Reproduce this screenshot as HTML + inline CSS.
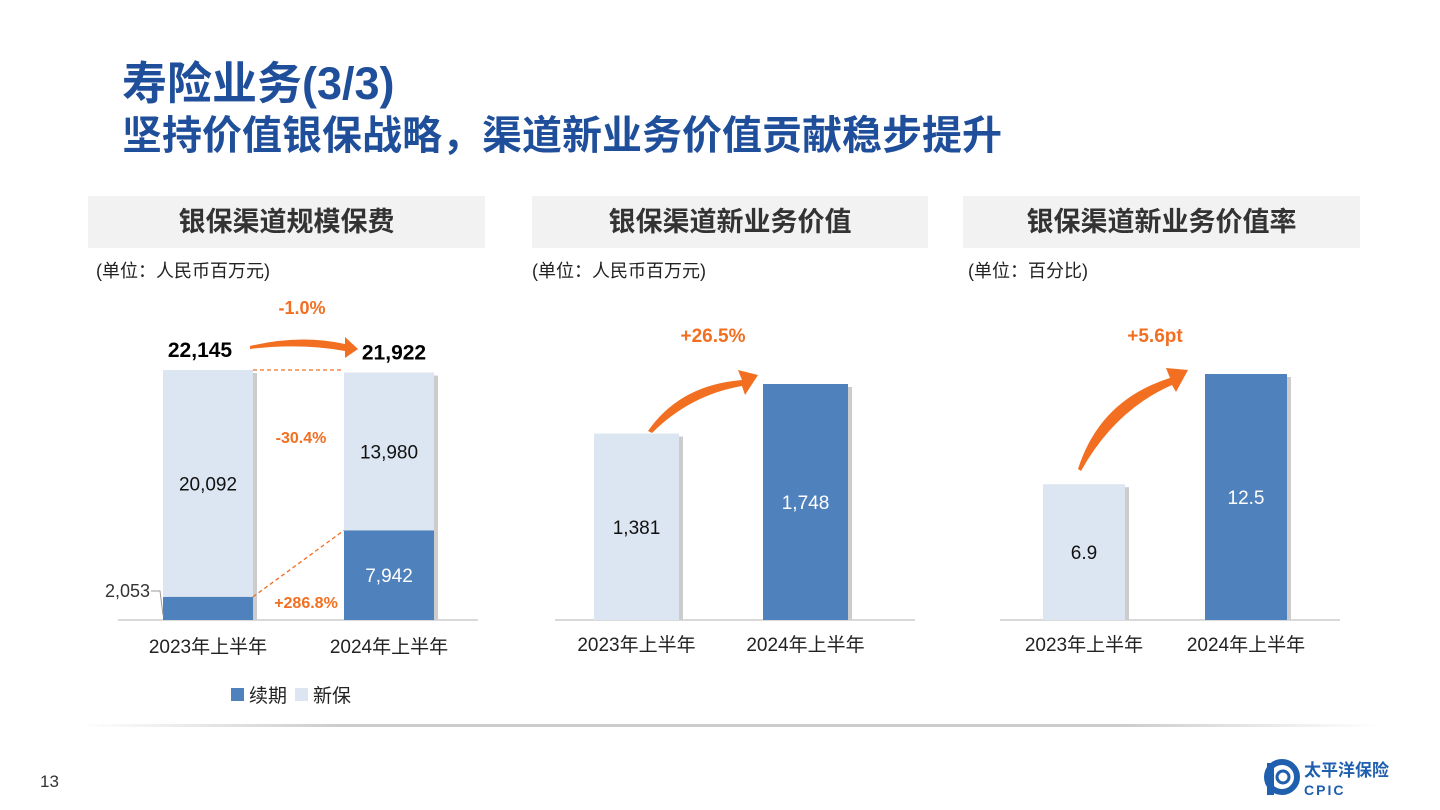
<!DOCTYPE html>
<html><head><meta charset="utf-8">
<style>
body{margin:0;width:1440px;height:810px;background:#fff;position:relative;overflow:hidden;font-family:"Liberation Sans","Noto Sans CJK SC",sans-serif}
.t{position:absolute;white-space:nowrap}
.hdr{position:absolute;top:196px;height:52px;background:#f2f2f2;font-size:27px;font-weight:bold;color:#333;text-align:center;line-height:52px}
.unit{position:absolute;top:257px;font-size:18px;color:#222}
</style></head><body>
<div class="t" style="left:122px;top:56px;font-size:45px;line-height:56px;font-weight:bold;color:#1f4e9a">寿险业务(3/3)</div>
<div class="t" style="left:122px;top:112px;font-size:40px;line-height:48px;font-weight:bold;color:#1f4e9a">坚持价值银保战略，渠道新业务价值贡献稳步提升</div>
<div class="hdr" style="left:88px;width:397px">银保渠道规模保费</div>
<div class="hdr" style="left:532px;width:396px">银保渠道新业务价值</div>
<div class="hdr" style="left:963px;width:397px">银保渠道新业务价值率</div>
<div class="unit" style="left:96px">(单位：人民币百万元)</div>
<div class="unit" style="left:532px">(单位：人民币百万元)</div>
<div class="unit" style="left:968px">(单位：百分比)</div>
<div style="position:absolute;left:80px;top:724px;width:1300px;height:3px;background:linear-gradient(90deg,rgba(200,200,200,0),#ccc 20%,#ccc 80%,rgba(200,200,200,0))"></div>
<div class="t" style="left:40px;top:772px;font-size:17px;color:#333">13</div>
<svg style="position:absolute;left:1262px;top:757px" width="150" height="44">
<circle cx="20" cy="20" r="15" fill="none" stroke="#1f5fae" stroke-width="6"/><rect x="5" y="6" width="7" height="32" fill="#1f5fae"/><circle cx="21" cy="20" r="6" fill="none" stroke="#1f5fae" stroke-width="3"/>
<text x="42" y="19" font-size="17" font-weight="bold" fill="#1f5fae" font-family="Noto Sans CJK SC,sans-serif">太平洋保险</text>
<text x="42" y="38" font-size="14" font-weight="bold" fill="#1f5fae" letter-spacing="2">CPIC</text>
</svg>
<svg id="chart" style="position:absolute;left:0;top:0" width="1440" height="810">
</svg>
<script>
const c1Cats=["2023年上半年","2024年上半年"];
const c1Renew=[2053,7942];
const c1New=[20092,13980];
const c1Total=[22145,21922];
const c2Cats=["2023年上半年","2024年上半年"];
const c2Vals=[1381,1748];
const c3Cats=["2023年上半年","2024年上半年"];
const c3Vals=[6.9,12.5];
const svg=document.getElementById('chart');const NS='http://www.w3.org/2000/svg';
function mk(t,a,txt){const e=document.createElementNS(NS,t);for(const k in a)e.setAttribute(k,a[k]);if(txt!==undefined)e.textContent=txt;svg.appendChild(e);return e;}
const LIGHT='#dce6f2',DARK='#4f81bd',OR='#f26f21';
const base=620;
const y1=v=>base-v*250/22145;const x1=[163,344],w1=90;
let e;
e=mk('line',{x1:118,x2:478,y1:base,y2:base,stroke:'#d9d9d9','stroke-width':2});

for(let i=0;i<2;i++){
 e=mk('rect',{x:x1[i]+4,y:y1(c1Total[i])+3,width:w1,height:base-y1(c1Total[i])-3,fill:'#ccc'});
 
 e=mk('rect',{x:x1[i],y:y1(c1Renew[i]),width:w1,height:base-y1(c1Renew[i]),fill:DARK});
 
 e=mk('rect',{x:x1[i],y:y1(c1Total[i]),width:w1,height:y1(c1Renew[i])-y1(c1Total[i]),fill:LIGHT});
 
 e=mk('text',{x:x1[i]+w1/2,y:base+33,'text-anchor':'middle','font-size':19,fill:'#222'},c1Cats[i]);
 
 e=mk('text',{x:x1[i]+w1/2+(i?5:-8),y:y1(c1Total[i])-13,'text-anchor':'middle','font-size':21,'font-weight':'bold',fill:'#000'},c1Total[i].toLocaleString('en-US'));
 
 e=mk('text',{x:x1[i]+w1/2,y:(y1(c1Total[i])+y1(c1Renew[i]))/2+7,'text-anchor':'middle','font-size':19,fill:'#111'},c1New[i].toLocaleString('en-US'));
 
}
e=mk('text',{x:x1[1]+w1/2,y:(y1(c1Renew[1])+base)/2+7,'text-anchor':'middle','font-size':19,fill:'#fff'},c1Renew[1].toLocaleString('en-US'));

e=mk('text',{x:150,y:597,'text-anchor':'end','font-size':18,fill:'#333'},c1Renew[0].toLocaleString('en-US'));

mk('path',{d:'M151,591 L160,591 L163,615',fill:'none',stroke:'#999'});
e=mk('line',{x1:x1[0]+w1,x2:x1[1],y1:y1(c1Total[0]),y2:y1(c1Total[0]),stroke:OR,'stroke-dasharray':'4,3','stroke-width':1.3});

e=mk('line',{x1:x1[0]+w1,x2:x1[1],y1:y1(c1Renew[0]),y2:y1(c1Renew[1]),stroke:OR,'stroke-dasharray':'4,3','stroke-width':1.3});

e=mk('path',{d:'M250,346 Q300,334 345,344 L345,337 L358,349 L345,358 L345,351 Q300,343 250,349 Z',fill:OR});

[['-1.0%',302,314,18],['-30.4%',301,443,16],['+286.8%',306,608,16]].forEach(a=>{e=mk('text',{x:a[1],y:a[2],'text-anchor':'middle','font-size':a[3],'font-weight':'bold',fill:OR},a[0]);
});
[[240,702,'续期',DARK],[304,702,'新保',LIGHT]].forEach(a=>{e=mk('rect',{x:a[0]-9,y:a[1]-14,width:13,height:13,fill:a[3]});

e=mk('text',{x:a[0]+9,y:a[1],'font-size':19,fill:'#222'},a[2]);
});
function single(pref,cats,vals,xs,w,scale,axis,fmt,lbl,arrow,lblPos){
 e=mk('line',{x1:axis[0],x2:axis[1],y1:base,y2:base,stroke:'#d9d9d9','stroke-width':2});
 
 for(let i=0;i<2;i++){const y=base-vals[i]*scale;
  e=mk('rect',{x:xs[i]+4,y:y+3,width:w,height:base-y-3,fill:'#ccc'});
  
  e=mk('rect',{x:xs[i],y:y,width:w,height:base-y,fill:i?DARK:LIGHT});
  
  e=mk('text',{x:xs[i]+w/2,y:(y+base)/2+7,'text-anchor':'middle','font-size':19,fill:i?'#fff':'#111'},fmt(vals[i]));
  
  e=mk('text',{x:xs[i]+w/2,y:base+31,'text-anchor':'middle','font-size':19,fill:'#222'},cats[i]);
  
 }
 e=mk('path',{d:arrow,fill:OR});
 
 e=mk('text',{x:lblPos[0],y:lblPos[1],'text-anchor':'middle','font-size':19,'font-weight':'bold',fill:OR},lbl);
 
}
single('c2',c2Cats,c2Vals,[594,763],85,236/1748,[555,915],v=>v.toLocaleString('en-US'),'+26.5%','M648,431 Q680,385 742,380 L738,370 L758,375 L745,395 L742,386 Q690,395 652,433 Z',[713,342]);
single('c3',c3Cats,c3Vals,[1043,1205],82,246/12.5,[1000,1340],v=>v.toFixed(1),'+5.6pt','M1078,469 Q1100,400 1170,378 L1166,368 L1188,370 L1176,392 L1172,385 Q1115,410 1081,471 Z',[1155,342]);
</script>
</body></html>
